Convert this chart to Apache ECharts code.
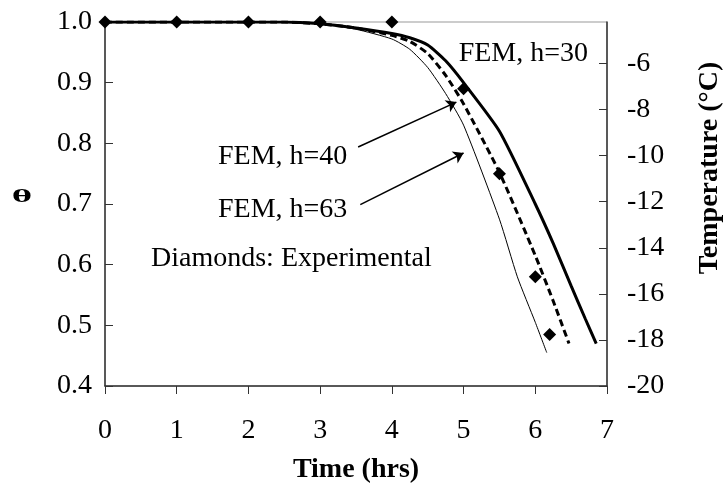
<!DOCTYPE html>
<html>
<head>
<meta charset="utf-8">
<script src="https://cdn.jsdelivr.net/npm/echarts@6/dist/echarts.min.js"></script>
<style>
  html, body { margin: 0; padding: 0; background: #fff; }
  #main { width: 727px; height: 489px; }
</style>
</head>
<body>
<div id="main"></div>
<script>
// FEM curves, [time (hrs), theta]
var fem30 = [[0, 1], [2.5, 1], [3, 0.997], [3.5, 0.99], [4, 0.981], [4.25, 0.974], [4.5, 0.962], [4.75, 0.936], [5, 0.9], [5.5, 0.82], [6, 0.7], [6.25, 0.635], [6.5, 0.565], [6.7, 0.51], [6.85, 0.47]];
var fem40 = [[0, 1], [2.5, 1], [3, 0.997], [3.5, 0.99], [4, 0.978], [4.25, 0.968], [4.5, 0.948], [4.75, 0.912], [5, 0.865], [5.5, 0.752], [6, 0.615], [6.25, 0.54], [6.47, 0.47]];
var fem63 = [[0, 1], [2.5, 1], [3, 0.997], [3.5, 0.988], [4, 0.972], [4.25, 0.955], [4.5, 0.925], [4.75, 0.882], [5, 0.83], [5.5, 0.675], [5.75, 0.58], [6, 0.505], [6.16, 0.455]];
// experimental points
var expTime = [0, 1, 2, 3, 4, 5, 5.5, 6, 6.2];
var expTheta = [1, 1, 1, 1, 1, 0.89, 0.75, 0.58, 0.485];
var tempTicks = [-20, -18, -16, -14, -12, -10, -8, -6];

var expData = expTime.map(function (t, i) { return [t, expTheta[i]]; });

var font = 'Liberation Serif';
var myChart = echarts.init(document.getElementById('main'));
var option;

option = {
  animation: false,
  grid: {
    left: 105, right: 120, top: 22, bottom: 102.5,
    show: true, borderColor: '#999', borderWidth: 1
  },
  xAxis: {
    type: 'value',
    min: 0, max: 7, interval: 1,
    name: 'Time (hrs)',
    nameLocation: 'middle',
    nameGap: 70,
    nameTextStyle: { fontFamily: font, fontSize: 28, fontWeight: 'bold', color: '#000' },
    axisLine: { lineStyle: { color: '#333', width: 1.5 } },
    axisTick: { length: 8, lineStyle: { color: '#333' } },
    axisLabel: { margin: 31, fontFamily: font, fontSize: 28, color: '#000' },
    splitLine: { show: false }
  },
  yAxis: [
    {
      type: 'value',
      min: 0.4, max: 1.0, interval: 0.1,
      axisLine: { show: true, lineStyle: { color: '#333', width: 1.5 } },
      axisTick: { show: true, inside: true, length: 8, lineStyle: { color: '#333' } },
      axisLabel: {
        margin: 13, fontFamily: font, fontSize: 28, color: '#000',
        formatter: function (v) { return v.toFixed(1); }
      },
      splitLine: { show: false }
    },
    {
      type: 'value',
      position: 'right',
      min: -20, max: -4.2, interval: 2,
      axisLine: { show: true, lineStyle: { color: '#333', width: 1.5 } },
      axisTick: { show: true, inside: true, length: 8, customValues: tempTicks, lineStyle: { color: '#333' } },
      axisLabel: { margin: 20, fontFamily: font, fontSize: 28, color: '#000', customValues: tempTicks },
      splitLine: { show: false }
    }
  ],
  graphic: [
    { type: 'text', x: 588, y: 54, style: { text: 'FEM, h=30', font: '28px "Liberation Serif"', fill: '#000', align: 'right', verticalAlign: 'middle' } },
    { type: 'text', x: 218, y: 157, style: { text: 'FEM, h=40', font: '28px "Liberation Serif"', fill: '#000', verticalAlign: 'middle' } },
    { type: 'text', x: 218, y: 210, style: { text: 'FEM, h=63', font: '28px "Liberation Serif"', fill: '#000', verticalAlign: 'middle' } },
    { type: 'text', x: 151, y: 259, style: { text: 'Diamonds: Experimental', font: '28px "Liberation Serif"', fill: '#000', verticalAlign: 'middle' } },
    {
      type: 'text', x: 22, y: 197, scaleX: 1.4, scaleY: 0.7,
      style: { text: 'θ', font: 'bold 28px "Liberation Serif"', fill: '#000', align: 'center', verticalAlign: 'middle' }
    },
    {
      type: 'text', x: 710, y: 168, rotation: Math.PI / 2,
      style: { text: 'Temperature (°C)', font: 'bold 28px "Liberation Serif"', fill: '#000', align: 'center', verticalAlign: 'middle' }
    }
  ],
  series: [
    {
      name: 'FEM, h=63', type: 'line', data: fem63, showSymbol: false, smooth: 0.2,
      lineStyle: { color: '#000', width: 1 },
      markLine: {
        silent: true, symbol: ['none', 'arrow'], symbolSize: 10,
        lineStyle: { color: '#000', width: 1.5, type: 'solid' },
        label: { show: false },
        data: [
          [{ coord: [3.53, 0.794] }, { coord: [4.9, 0.868] }],
          [{ coord: [3.56, 0.699] }, { coord: [5.0, 0.784] }]
        ]
      }
    },
    {
      name: 'FEM, h=40', type: 'line', data: fem40, showSymbol: false, smooth: 0.2,
      lineStyle: { color: '#000', width: 3, type: [7, 4] }
    },
    {
      name: 'FEM, h=30', type: 'line', data: fem30, showSymbol: false, smooth: 0.2,
      lineStyle: { color: '#000', width: 3 }
    },
    {
      name: 'Experimental', type: 'scatter', data: expData,
      symbol: 'diamond', symbolSize: 13,
      itemStyle: { color: '#000', opacity: 1 }
    }
  ]
};

option && myChart.setOption(option);
</script>
</body>
</html>
